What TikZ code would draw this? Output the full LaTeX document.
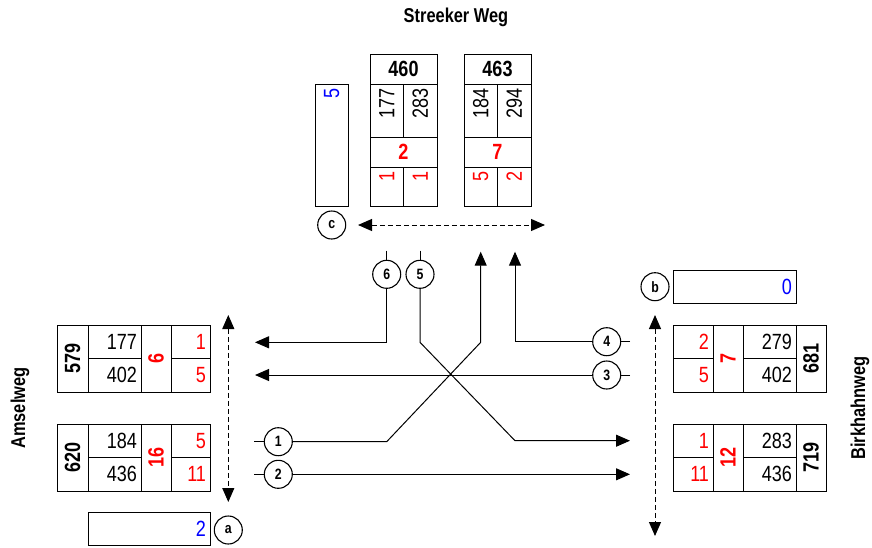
\documentclass[tikz,border=0pt]{standalone}
\usepackage{fontspec}
\setmainfont[FakeStretch=0.82]{Liberation Sans}
\usetikzlibrary{arrows.meta}
\newcommand{\numfont}{\fontsize{22}{24}\selectfont}
\tikzset{
cell/.style={draw, line width=0.9pt, inner xsep=4pt, inner ysep=0pt, font=\numfont},
numcell/.style={cell, minimum width=53pt, minimum height=33.5pt, text width=45pt, align=right},
redcell/.style={cell, text=red, minimum width=39pt, minimum height=33.5pt, text width=31pt, align=right},
idcell/.style={cell, rotate=90, font=\numfont\bfseries, minimum width=67pt, minimum height=30pt},
headcell/.style={cell, font=\numfont\bfseries, minimum width=67pt, minimum height=30pt},
sumcell/.style={cell, text=red, font=\numfont\bfseries, minimum width=67pt, minimum height=30pt},
bluebox/.style={cell, text=blue, minimum width=122pt, minimum height=33.5pt, text width=114pt, align=right},
roundlabel/.style={circle, draw, line width=1.1pt, minimum size=28pt, inner sep=0pt, font=\fontsize{15}{15}\selectfont\bfseries},
streetlabel/.style={font=\fontsize{20}{22}\selectfont\bfseries},
conn/.style={line width=1pt},
arr/.style={conn, -{Triangle[length=14pt, width=12pt]}},
dasharrow/.style={conn, dash pattern=on 5pt off 3pt, {Triangle[length=14pt, width=12pt]}-{Triangle[length=14pt, width=12pt]}}
}
\newcommand{\westbox}[7]{
\begin{scope}[shift={(#1)}]
\node at (15.5,33.5) (n#2) [idcell, minimum height=31pt] {#2};
\node at (57.5,16.75) (n#2a) [numcell] {#3};
\node at (57.5,50.25) (n#2b) [numcell] {#4};
\node at (99,33.5) (n#2s) [sumcell, rotate=90] {#5};
\node at (133.5,16.75) (n#2c) [redcell] {#6};
\node at (133.5,50.25) (n#2d) [redcell] {#7};
\end{scope}}
\newcommand{\eastbox}[7]{
\begin{scope}[shift={(#1)}]
\node at (20,16.75) (n#2c) [redcell, minimum width=40pt, text width=32pt] {#6};
\node at (20,50.25) (n#2d) [redcell, minimum width=40pt, text width=32pt] {#7};
\node at (55,33.5) (n#2s) [sumcell, rotate=90] {#5};
\node at (96.5,16.75) (n#2a) [numcell] {#3};
\node at (96.5,50.25) (n#2b) [numcell] {#4};
\node at (138,33.5) (n#2) [idcell] {#2};
\end{scope}}
\newcommand{\northbox}[7]{
\begin{scope}[shift={(#1)}]
\node at (33.5,15) (n#2) [headcell] {#2};
\node at (16.75,56.5) (n#2a) [numcell, rotate=90] {#3};
\node at (50.25,56.5) (n#2b) [numcell, rotate=90] {#4};
\node at (33.5,98) (n#2s) [sumcell] {#5};
\node at (16.75,132.5) (n#2c) [redcell, rotate=90] {#6};
\node at (50.25,132.5) (n#2d) [redcell, rotate=90] {#7};
\end{scope}}
\newcommand{\roundnode}[2]{\node at (#1) (c#2) [roundlabel] {#2};}

\begin{document}
\begin{tikzpicture}[x=1pt, y=-1pt]
\useasboundingbox (0,0) rectangle (872,547);

\node at (456,17) (streeker) [streetlabel] {Streeker Weg};
\node at (20,408) (amsel) [streetlabel, rotate=90] {Amselweg};
\node at (860,408) (birkhahn) [streetlabel, rotate=90] {Birkhahnweg};

\northbox{370,54}{460}{177}{283}{2}{1}{1};
\northbox{464,54}{463}{184}{294}{7}{5}{2};
\westbox{57,325}{579}{177}{402}{6}{1}{5};
\westbox{57,424}{620}{184}{436}{16}{5}{11};
\eastbox{673,325}{681}{279}{402}{7}{2}{5};
\eastbox{673,424}{719}{283}{436}{12}{1}{11};

\node at (331.7,145) (qc) [bluebox, rotate=90, minimum height=33.3pt] {5};
\node at (149,529) (qa) [bluebox] {2};
\node at (734.5,286.7) (qb) [bluebox, minimum width=123pt, text width=115pt] {0};

\roundnode{278.3,441.7}{1};
\roundnode{278.3,474.3}{2};
\roundnode{606.7,375}{3};
\roundnode{606.7,341.7}{4};
\roundnode{420,274.3}{5};
\roundnode{386.7,274.3}{6};
\roundnode{228.3,530}{a};
\roundnode{655,286.7}{b};
\roundnode{331.7,225}{c};

\coordinate (e1) at (254,441.7);
\coordinate (e2) at (254,474.3);
\coordinate (e3) at (630,375);
\coordinate (e4) at (630,341.7);
\coordinate (e5) at (420,250.7);
\coordinate (e6) at (386.7,250.7);
\coordinate (t1) at (480.7,251.7);
\coordinate (t2) at (630,474.3);
\coordinate (t3) at (255,375);
\coordinate (t4) at (515,251.7);
\coordinate (t5) at (630,440.7);
\coordinate (t6) at (255,342.3);

\draw [conn] (e1) -- (c1);
\draw [conn] (e2) -- (c2);
\draw [conn] (e3) -- (c3);
\draw [conn] (e4) -- (c4);
\draw [conn] (e5) -- (c5);
\draw [conn] (e6) -- (c6);

\draw [arr] (c1) -- ++(108.4,0) -- ++(94,-99.4) -- (t1);
\draw [arr] (c2) -- (t2);
\draw [arr] (c3) -- (t3);
\draw [arr] (c4) -- (t4 |- c4) -- (t4);
\draw [arr] (c5) -- ++(0,68) -- ++(95,98.4) -- (t5);
\draw [arr] (c6) -- (c6 |- t6) -- (t6);

\coordinate (da1) at (228.3,315);
\coordinate (da2) at (228.3,502);
\coordinate (db1) at (655,315);
\coordinate (db2) at (655,536);
\coordinate (dc1) at (358,225);
\coordinate (dc2) at (545,225);
\draw [dasharrow] (da1) -- (da2);
\draw [dasharrow] (db1) -- (db2);
\draw [dasharrow] (dc1) -- (dc2);

\end{tikzpicture}
\end{document}
